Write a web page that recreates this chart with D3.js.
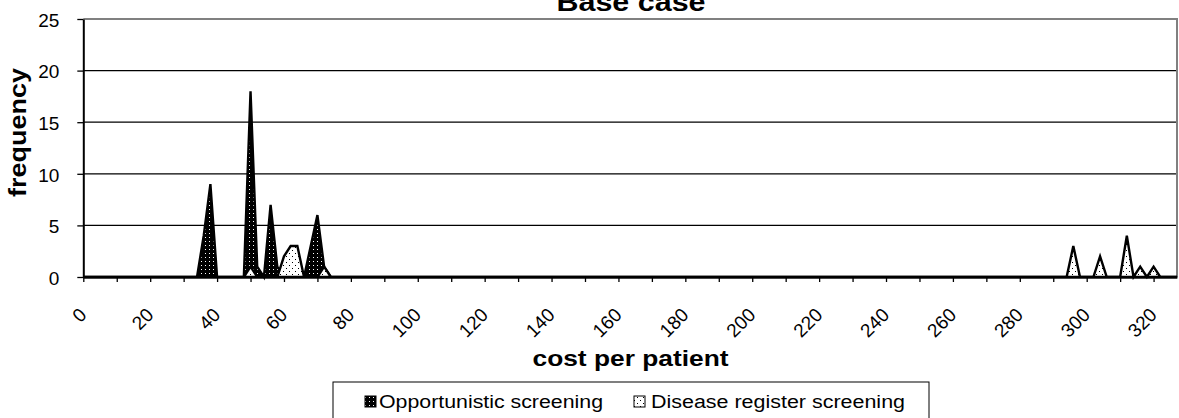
<!DOCTYPE html>
<html>
<head>
<meta charset="utf-8">
<script src="https://cdn.jsdelivr.net/npm/d3@7"></script>
<style>
  body { margin: 0; background: #fff; }
  text { font-family: Arial, "Liberation Sans", sans-serif; fill: #000; }
</style>
</head>
<body>
<svg width="1179" height="418"></svg>
<script>
// cost per patient bins and the frequency of each series at that cost
var costs = [0, 34, 36, 38, 40, 48, 50, 52, 54, 56, 58, 60, 62, 64, 66, 68, 70, 72, 74,
  294, 296, 298, 302, 304, 306, 310, 312, 314, 316, 318, 320, 322, 327];
var opportunistic = [0, 0, 4, 9, 0, 0, 18, 1, 0, 7, 1, 0, 0, 0, 0, 3, 6, 1, 0,
  0, 0, 0, 0, 0, 0, 0, 0, 0, 0, 0, 0, 0, 0];
var diseaseRegister = [0, 0, 0, 0, 0, 0, 1, 0, 0, 0, 0, 2, 3, 3, 0, 0, 0, 1, 0,
  0, 3, 0, 0, 2, 0, 0, 4, 0, 1, 0, 1, 0, 0];
var seriesNames = ["Opportunistic screening", "Disease register screening"];
var yTicks = [0, 5, 10, 15, 20, 25];
var xTicks = [0, 10, 20, 30, 40, 50, 60, 70, 80, 90, 100, 110, 120, 130, 140, 150, 160,
  170, 180, 190, 200, 210, 220, 230, 240, 250, 260, 270, 280, 290, 300, 310, 320];
var xLabels = [0, 20, 40, 60, 80, 100, 120, 140, 160, 180, 200, 220, 240, 260, 280, 300, 320];

var plotLeft = 83.3, plotRight = 1177, plotTop = 19, plotBottom = 277;

var svg = d3.select("svg");

var x = d3.scaleLinear().domain([0, 327]).range([plotLeft, plotRight]);
var y = d3.scaleLinear().domain([0, 25]).range([plotBottom, plotTop]);

// fill patterns: black with white dots, white with black dots
var defs = svg.append("defs");
var dark = defs.append("pattern").attr("id", "darkDots")
  .attr("patternUnits", "userSpaceOnUse").attr("width", 4).attr("height", 4);
dark.append("rect").attr("width", 4).attr("height", 4).attr("fill", "#000");
dark.append("rect").attr("x", 1).attr("y", 1).attr("width", 1).attr("height", 1).attr("fill", "#fff");

var light = defs.append("pattern").attr("id", "lightDots")
  .attr("patternUnits", "userSpaceOnUse").attr("width", 6).attr("height", 6);
light.append("rect").attr("width", 6).attr("height", 6).attr("fill", "#fff");
light.append("rect").attr("x", 1).attr("y", 1).attr("width", 1).attr("height", 1).attr("fill", "#000");
light.append("rect").attr("x", 4).attr("y", 4).attr("width", 1).attr("height", 1).attr("fill", "#000");

// gridlines
svg.append("g").selectAll("line")
  .data(yTicks.slice(1, -1)).enter()
  .append("line")
  .attr("x1", plotLeft).attr("x2", plotRight)
  .attr("y1", function(d) { return y(d); })
  .attr("y2", function(d) { return y(d); })
  .attr("stroke", "#000").attr("stroke-width", 1.2);

// plot border top / right
svg.append("path")
  .attr("d", "M" + plotLeft + "," + y(25) + "H" + plotRight + "V" + plotBottom)
  .attr("fill", "none").attr("stroke", "#808080").attr("stroke-width", 2);

var area = d3.area()
  .x(function(d) { return x(d[0]); })
  .y0(y(0))
  .y1(function(d) { return y(d[1]); });

var series = [
  { values: opportunistic, fill: "url(#darkDots)" },
  { values: diseaseRegister, fill: "url(#lightDots)" }
];

series.forEach(function(s) {
  var pts = costs.map(function(c, i) { return [c, s.values[i]]; });
  svg.append("path")
    .datum(pts)
    .attr("d", area)
    .attr("fill", s.fill)
    .attr("stroke", "#000")
    .attr("stroke-width", 2.4)
    .attr("stroke-linejoin", "miter");
});

// y axis
var yAxis = svg.append("g")
  .attr("transform", "translate(" + plotLeft + ",0)")
  .call(d3.axisLeft(y).tickValues(yTicks).tickSize(6).tickSizeOuter(0).tickPadding(18));
yAxis.selectAll("text").style("font-size", "19px").attr("dy", "0.38em");

// x axis
var xAxis = svg.append("g")
  .attr("transform", "translate(0," + plotBottom + ")")
  .call(d3.axisBottom(x).tickValues(xTicks).tickSize(5).tickSizeOuter(0)
    .tickFormat(function(d) { return xLabels.indexOf(d) >= 0 ? d : ""; }));
xAxis.selectAll("text")
  .attr("x", 0).attr("y", 0).attr("dy", 0)
  .attr("transform", "translate(4,39) rotate(-45)")
  .style("text-anchor", "end")
  .style("font-size", "19px");

[yAxis, xAxis].forEach(function(a) {
  a.select(".domain").attr("stroke", "#000").attr("stroke-width", 2);
  a.selectAll(".tick line").attr("stroke", "#000").attr("stroke-width", 1.3);
});

// titles
svg.append("text")
  .attr("x", 631).attr("y", 11)
  .attr("text-anchor", "middle")
  .attr("textLength", 149).attr("lengthAdjust", "spacingAndGlyphs")
  .style("font-size", "25px").style("font-weight", "bold")
  .text("Base case");

svg.append("text")
  .attr("x", 630.5).attr("y", 366)
  .attr("text-anchor", "middle")
  .attr("textLength", 196).attr("lengthAdjust", "spacingAndGlyphs")
  .style("font-size", "22px").style("font-weight", "bold")
  .text("cost per patient");

svg.append("text")
  .attr("transform", "translate(26,132.5) rotate(-90)")
  .attr("text-anchor", "middle")
  .attr("textLength", 129).attr("lengthAdjust", "spacingAndGlyphs")
  .style("font-size", "23px").style("font-weight", "bold")
  .text("frequency");

// legend
svg.append("rect")
  .attr("x", 333).attr("y", 382).attr("width", 596).attr("height", 50)
  .attr("fill", "#fff").attr("stroke", "#000").attr("stroke-width", 1);

var legendItems = [
  { name: seriesNames[0], fill: "url(#darkDots)", mx: 365, tx: 379, len: 224 },
  { name: seriesNames[1], fill: "url(#lightDots)", mx: 634, tx: 651, len: 254 }
];
legendItems.forEach(function(d) {
  svg.append("rect")
    .attr("x", d.mx).attr("y", 396).attr("width", 11).attr("height", 11)
    .attr("fill", d.fill).attr("stroke", "#000").attr("stroke-width", 1);
  svg.append("text")
    .attr("x", d.tx).attr("y", 408)
    .attr("textLength", d.len).attr("lengthAdjust", "spacingAndGlyphs")
    .style("font-size", "18px")
    .text(d.name);
});
</script>
</body>
</html>
